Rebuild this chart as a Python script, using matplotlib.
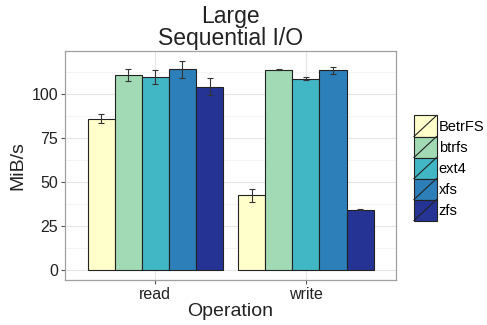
import matplotlib
matplotlib.use('Agg')
import matplotlib.pyplot as plt
import numpy as np
from matplotlib.legend_handler import HandlerBase
from matplotlib.patches import Rectangle, Patch
from matplotlib.lines import Line2D

plt.rcParams['font.family'] = ['Liberation Sans', 'DejaVu Sans']

operations = ['read', 'write']
filesystems = ['BetrFS', 'btrfs', 'ext4', 'xfs', 'zfs']
colors = ['#ffffcc', '#a1dab4', '#41b6c4', '#2c7fb8', '#253494']

# mean throughput per filesystem: [read, write]
means = {
    'BetrFS': [86.0, 42.5],
    'btrfs': [110.8, 113.8],
    'ext4': [109.6, 108.7],
    'xfs': [114.2, 113.6],
    'zfs': [104.2, 34.3],
}
errs = {
    'BetrFS': [2.5, 3.8],
    'btrfs': [3.4, 0.3],
    'ext4': [4.0, 0.8],
    'xfs': [4.8, 2.0],
    'zfs': [4.7, 0.4],
}


class SlashHandler(HandlerBase):
    def create_artists(self, legend, orig_handle, xdescent, ydescent,
                       width, height, fontsize, trans):
        x0, y0 = -xdescent, -ydescent
        r = Rectangle((x0, y0), width, height, facecolor=orig_handle.get_facecolor(),
                      edgecolor='#222222', lw=0.8, transform=trans)
        l = Line2D([x0, x0 + width], [y0, y0 + height], color='#222222', lw=0.8,
                   transform=trans)
        return [r, l]


fig = plt.figure(figsize=(4.87, 3.25), dpi=100)
ax = fig.add_axes([0.1335, 0.1385, 0.68, 0.705])

x = np.arange(1, len(operations) + 1)
w = 0.18
handles = []
for i, fs in enumerate(filesystems):
    pos = x + (i - 2) * w
    ax.bar(pos, means[fs], width=w, color=colors[i], edgecolor='#222222',
           linewidth=0.8, zorder=3)
    ax.errorbar(pos, means[fs], yerr=errs[fs], fmt='none', ecolor='#333333',
                elinewidth=0.8, capsize=2, capthick=0.8, zorder=4)
    handles.append(Patch(facecolor=colors[i], label=fs))

ax.set_xlim(0.4, 2.6)
ax.set_ylim(-5.7, 124.6)
ax.set_xticks(x)
ax.set_xticklabels(operations)
ax.set_yticks([0, 25, 50, 75, 100])
ax.set_yticks([12.5, 37.5, 62.5, 87.5, 112.5], minor=True)
ax.grid(which='major', color='#e5e5e5', linewidth=0.8, zorder=0)
ax.grid(which='minor', axis='y', color='#f2f2f2', linewidth=0.6, zorder=0)
ax.set_axisbelow(True)
ax.tick_params(which='major', length=3, width=0.8, color='#555555',
               labelsize=11.5, labelcolor='#222222', pad=2)
ax.tick_params(which='minor', length=0)
for s in ax.spines.values():
    s.set_color('#a0a0a0')
    s.set_linewidth(0.9)

ax.set_xlabel('Operation', fontsize=14, color='#222222', labelpad=1)
ax.set_ylabel('MiB/s', fontsize=14, color='#222222', labelpad=4)
ax.set_title('Large\nSequential I/O', fontsize=16.5, color='#222222',
             linespacing=0.95, pad=4)

fig.legend(handles=handles, handler_map={Patch: SlashHandler()},
           loc='center left', bbox_to_anchor=(0.85, 0.483), frameon=False,
           fontsize=10.5, handlelength=1.55, handleheight=1.84, labelspacing=0,
           handletextpad=0.15, borderpad=0, borderaxespad=0)

fig.savefig('out.png', dpi=100)
